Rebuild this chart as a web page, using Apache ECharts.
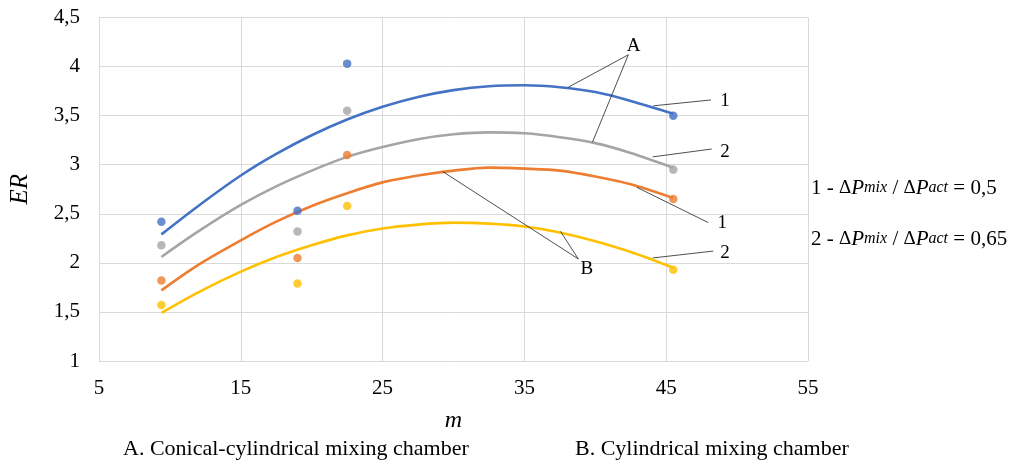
<!DOCTYPE html>
<html>
<head>
<meta charset="utf-8">
<script src="https://cdn.jsdelivr.net/npm/echarts@6/dist/echarts.min.js"></script>
<style>
  html, body { margin: 0; padding: 0; background: #fff; }
  #chart { width: 1016px; height: 464px; }
</style>
</head>
<body>
<div id="chart"></div>
<script>
// measured points (m, ER)
const pointX = [9.4, 19, 22.5, 45.5];
const pointsBlue = [2.42, 2.53, 4.03, 3.50];
const pointsGray = [2.18, 2.32, 3.55, 2.95];
const pointsOrange = [1.82, 2.05, 3.10, 2.65];
const pointsYellow = [1.57, 1.79, 2.58, 1.93];

// trend curves
const trendX = [9.4, 12, 15, 17.5, 20, 22.5, 25, 27.5, 30, 32.5, 35, 37.5, 40, 42.5, 45.5];
const trendBlue = [2.29, 2.58, 2.89, 3.11, 3.30, 3.46, 3.59, 3.69, 3.76, 3.80, 3.81, 3.79, 3.74, 3.65, 3.52];
const trendGray = [2.06, 2.32, 2.59, 2.78, 2.94, 3.08, 3.18, 3.26, 3.31, 3.33, 3.32, 3.28, 3.22, 3.12, 2.97];
const trendOrange = [1.72, 1.98, 2.23, 2.42, 2.58, 2.71, 2.82, 2.89, 2.94, 2.97, 2.96, 2.94, 2.88, 2.80, 2.66];
const trendYellow = [1.49, 1.70, 1.91, 2.06, 2.18, 2.28, 2.35, 2.39, 2.41, 2.40, 2.37, 2.31, 2.22, 2.11, 1.95];

const colors = ['#4472C4', '#A5A5A5', '#ED7D31', '#FFC000'];

// leader labels: text, text position, and line ends (data coords)
const notes = [
  { text: 'A', at: [42.7, 4.21], lines: [[[42.33, 4.12], [38.10, 3.79]], [[42.33, 4.12], [39.80, 3.23]]] },
  { text: 'B', at: [39.4, 1.94], lines: [[[38.80, 2.04], [29.24, 2.93]], [[38.80, 2.04], [37.55, 2.32]]] },
  { text: '1', at: [49.15, 3.65], lines: [[[48.16, 3.66], [44.09, 3.60]]] },
  { text: '2', at: [49.15, 3.13], lines: [[[48.21, 3.16], [44.05, 3.08]]] },
  { text: '1', at: [48.96, 2.41], lines: [[[47.97, 2.41], [42.92, 2.77]]] },
  { text: '2', at: [49.15, 2.10], lines: [[[48.32, 2.12], [44.05, 2.05]]] }
];

const zip = (xs, ys) => xs.map((x, i) => [x, ys[i]]);
const serif = 'Liberation Serif';

let chart = echarts.init(document.getElementById('chart'));

function curve(data, color) {
  return {
    type: 'line', data: data, smooth: 0.3, showSymbol: false,
    lineStyle: { color: color, width: 2.6 }, z: 2
  };
}
function dots(data, color) {
  return {
    type: 'scatter', data: data, symbolSize: 8.5,
    itemStyle: { color: color }, z: 3
  };
}

chart.setOption({
  animation: false,
  grid: { left: 99, right: 208, top: 17.5, bottom: 103 },
  xAxis: {
    type: 'value', min: 5, max: 55, interval: 10,
    name: 'm', nameLocation: 'middle', nameGap: 48,
    nameTextStyle: { fontFamily: serif, fontStyle: 'italic', fontSize: 24, color: '#000' },
    axisLine: { show: false },
    axisTick: { show: false },
    axisLabel: { fontFamily: serif, fontSize: 21, color: '#000', margin: 17 },
    splitLine: { lineStyle: { color: '#d9d9d9', width: 1 } }
  },
  yAxis: {
    type: 'value', min: 1, max: 4.5, interval: 0.5,
    name: 'ER', nameLocation: 'middle', nameGap: 66,
    nameTextStyle: { fontFamily: serif, fontStyle: 'italic', fontSize: 25, color: '#000' },
    axisLine: { show: false },
    axisTick: { show: false },
    axisLabel: {
      fontFamily: serif, fontSize: 21, color: '#000', margin: 19,
      formatter: v => String(v).replace('.', ',')
    },
    splitLine: { lineStyle: { color: '#d9d9d9', width: 1 } }
  },
  series: [
    curve(zip(trendX, trendBlue), colors[0]),
    curve(zip(trendX, trendGray), colors[1]),
    curve(zip(trendX, trendOrange), colors[2]),
    curve(zip(trendX, trendYellow), colors[3]),
    dots(zip(pointX, pointsBlue), colors[0]),
    dots(zip(pointX, pointsGray), colors[1]),
    dots(zip(pointX, pointsOrange), colors[2]),
    dots(zip(pointX, pointsYellow), colors[3])
  ]
});

// annotations drawn on top
const px = p => chart.convertToPixel({ gridIndex: 0 }, p);
const rich = {
  n: { fontFamily: serif, fontSize: 21, color: '#000' },
  d: { fontFamily: serif, fontSize: 19, color: '#000' },
  p: { fontFamily: serif, fontSize: 21, fontStyle: 'italic', color: '#000' },
  s: { fontFamily: serif, fontSize: 16, fontStyle: 'italic', color: '#000' }
};
let gfx = [];
notes.forEach(n => {
  n.lines.forEach(l => {
    const a = px(l[0]), b = px(l[1]);
    gfx.push({ type: 'line', shape: { x1: a[0], y1: a[1], x2: b[0], y2: b[1] },
      style: { stroke: '#222', lineWidth: 0.8 }, z: 10 });
  });
  const t = px(n.at);
  gfx.push({ type: 'text', x: t[0], y: t[1], z: 10,
    style: { text: n.text, fontFamily: serif, fontSize: 19, fill: '#000', align: 'center', verticalAlign: 'middle' } });
});
gfx.push({ type: 'text', x: 811, y: 188, z: 10,
  style: { text: '{n|1 - }{d|Δ}{p|P}{s|mix}{n| / }{d|Δ}{p|P}{s|act}{n| = 0,5}', rich: rich, verticalAlign: 'middle' } });
gfx.push({ type: 'text', x: 811, y: 239, z: 10,
  style: { text: '{n|2 - }{d|Δ}{p|P}{s|mix}{n| / }{d|Δ}{p|P}{s|act}{n| = 0,65}', rich: rich, verticalAlign: 'middle' } });
gfx.push({ type: 'text', x: 123, y: 449, z: 10,
  style: { text: 'A. Conical-cylindrical mixing chamber', fontFamily: serif, fontSize: 22, fill: '#000', verticalAlign: 'middle' } });
gfx.push({ type: 'text', x: 575, y: 449, z: 10,
  style: { text: 'B. Cylindrical mixing chamber', fontFamily: serif, fontSize: 22, fill: '#000', verticalAlign: 'middle' } });
chart.setOption({ graphic: gfx });
</script>
</body>
</html>
